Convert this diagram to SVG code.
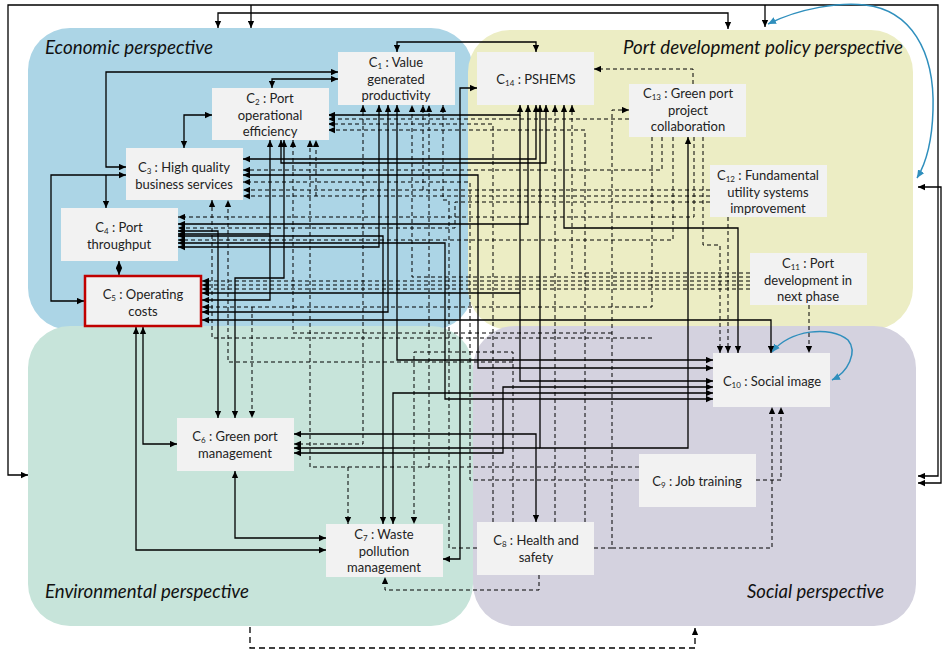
<svg xmlns="http://www.w3.org/2000/svg" width="942" height="651" viewBox="0 0 942 651">
<defs>
<marker id="ah" viewBox="0 0 10 10" refX="10" refY="5" markerWidth="7" markerHeight="7" markerUnits="userSpaceOnUse" orient="auto-start-reverse"><path d="M0,0.5 L10,5 L0,9.5 z" fill="#000"/></marker>
<marker id="bh" viewBox="0 0 10 10" refX="10" refY="5" markerWidth="8" markerHeight="8" markerUnits="userSpaceOnUse" orient="auto-start-reverse"><path d="M0,0.5 L10,5 L0,9.5 z" fill="#2f8fbd"/></marker>
<style>
.s{fill:none;stroke:#000;stroke-width:1.3}
.d{fill:none;stroke:#000;stroke-width:1;stroke-dasharray:4 3}
.d2{fill:none;stroke:#000;stroke-width:1.3;stroke-dasharray:6 4}
.blue{fill:none;stroke:#2f8fbd;stroke-width:1.5;marker-start:url(#bh);marker-end:url(#bh)}
.e{marker-end:url(#ah)}
.b{marker-start:url(#ah);marker-end:url(#ah)}
.box{fill:#f2f2f2}
.t{font-family:Lato,"Open Sans","Liberation Sans",sans-serif;font-size:13px;fill:#222;text-anchor:middle}
.sub{font-size:8px}
.reg{font-family:Lato,"Open Sans","Liberation Sans",sans-serif;font-style:italic;font-size:19px;fill:#111}
</style>
</defs>
<g id="regions">
<rect x="28" y="28" width="445" height="302" rx="42" fill="#acd5e6"/>
<rect x="468" y="30" width="445" height="300" rx="42" fill="#ecedc4"/>
<rect x="28" y="326" width="445" height="300" rx="42" fill="#c7e4da"/>
<rect x="473" y="326" width="443" height="300" rx="42" fill="#d4d2df"/>
<text class="reg" x="45" y="54" textLength="168" lengthAdjust="spacingAndGlyphs">Economic perspective</text>
<text class="reg" x="623" y="54" textLength="280" lengthAdjust="spacingAndGlyphs">Port development policy perspective</text>
<text class="reg" x="45" y="598" textLength="204" lengthAdjust="spacingAndGlyphs">Environmental perspective</text>
<text class="reg" x="747" y="598" textLength="137" lengthAdjust="spacingAndGlyphs">Social perspective</text>
</g>
<g id="connectors">
<path class="s b" d="M28,475 H8 V5 H938 V476 H918"/>
<path class="s e" d="M251,5 V28"/>
<path class="s e" d="M765,5 V27"/>
<path class="s b" d="M218,28 V13 H728 V29"/>
<path class="s b" d="M918,187 H941 V483 H918"/>
<path class="d2 e" d="M250,627 V648 H695 V628"/>
<path class="blue" d="M768,24 C800,8 840,2 865,5 C910,10 935,50 933,110 C932,145 925,165 917,178"/>
<path class="blue" d="M772,352 C790,330 830,325 848,340 C858,352 848,372 832,380"/>

<path class="s b" d="M397,52 V42 H536 V52"/>
<path class="s b" d="M338,72 H106 V167 H126"/>
<path class="s b" d="M338,79 H272 V88"/>
<path class="s b" d="M212,115 H184 V148"/>
<path class="s b" d="M126,175 H51 V301 H84"/>
<path class="s e" d="M106,175 V208"/>
<path class="s b" d="M119,261 V275"/>
<path class="s b" d="M136,327 V550 H326"/>
<path class="s b" d="M143,327 V444 H177"/>
<path class="s b" d="M235,471 V538 H326"/>
<path class="s b" d="M328,115 H520 V105"/>
<path class="s e" d="M520,115 V381 H713"/>
<path class="s e" d="M520,293 H202"/>
<path class="s b" d="M243,159 H536 V105"/>
<path class="s b" d="M281,140 V163 H546 V105"/>
<path class="s b" d="M178,224 H528 V105"/>
<path class="s b" d="M540,105 V448 H688 V137"/>
<path class="s b" d="M564,105 V228 H738 V353"/>
<path class="s b" d="M477,88 H460 V559 H443"/>
<path class="s b" d="M243,175 H478 V368 H713"/>
<path class="s b" d="M379,105 V247 H178"/>
<path class="s b" d="M388,105 V312 H202"/>
<path class="s b" d="M397,105 V360 H713"/>
<path class="s b" d="M178,236 H383 V524"/>
<path class="s b" d="M393,524 V393 H713"/>
<path class="s b" d="M270,140 V300 H202"/>
<path class="s e" d="M270,234 H178"/>
<path class="s b" d="M284,140 V278 H235 V418"/>
<path class="s b" d="M178,231 H218 V418"/>
<path class="s b" d="M294,434 H536 V522"/>
<path class="s e" d="M540,448 H294"/>
<path class="s b" d="M294,453 H503 V387 H713"/>
<path class="s b" d="M178,243 H445 V399 H713"/>
<path class="s b" d="M202,320 H771 V353"/>

<path class="d e" d="M693,84 V69 H594"/>
<path class="d e" d="M594,548 H612 V110 H629"/>
<path class="d e" d="M612,548 H772 V407"/>
<path class="d e" d="M539,575 V590 H385 V577"/>
<path class="d e" d="M756,480 H781 V407"/>
<path class="d e" d="M809,305 V353"/>
<path class="d e" d="M703,137 V245 H720 V353"/>
<path class="d e" d="M728,217 V353"/>
<path class="d e" d="M750,273 H572 V105"/>
<path class="d e" d="M629,119 H328"/>
<path class="d e" d="M493,522 V124 H328"/>
<path class="d e" d="M555,522 V105"/>
<path class="d e" d="M513,522 V352 H414 V524"/>
<path class="d e" d="M477,548 H449 V200 H443 V105"/>
<path class="d e" d="M710,190 H243"/>
<path class="d e" d="M423,190 V105"/>
<path class="d e" d="M710,196 H243"/>
<path class="d e" d="M316,196 V140"/>
<path class="d e" d="M710,202 H455 V228 H178"/>
<path class="d e" d="M750,281 H202"/>
<path class="d e" d="M750,285 H202"/>
<path class="d e" d="M750,289 H202"/>
<path class="d e" d="M750,277 H412 V105"/>
<path class="d e" d="M662,137 V170 H243"/>
<path class="d e" d="M673,137 V240 H178"/>
<path class="d e" d="M694,137 V217 H178"/>
<path class="d e" d="M652,137 V307 H202"/>
<path class="d e" d="M252,307 V418"/>
<path class="d b" d="M363,105 V444 H294"/>
<path class="d e" d="M639,467 H310 V140"/>
<path class="d e" d="M348,467 V524"/>
<path class="d e" d="M429,467 V105"/>
<path class="d e" d="M639,480 H470 V182 H243"/>
<path class="d e" d="M652,338 H212 V200"/>
<path class="d e" d="M513,362 H228 V200"/>
<path class="d e" d="M612,333 H293 V140"/>
<path class="d e" d="M585,522 V130 H328"/>
</g>
<g id="C1"><rect class="box" x="338" y="52" width="117" height="53"/><text class="t" x="396" y="67">C<tspan class="sub" dy="2">1</tspan><tspan dy="-2"> : Value</tspan></text><text class="t" x="396" y="84">generated</text><text class="t" x="396" y="100">productivity</text></g>
<g id="C2"><rect class="box" x="212" y="88" width="117" height="52"/><text class="t" x="270" y="103">C<tspan class="sub" dy="2">2</tspan><tspan dy="-2"> : Port</tspan></text><text class="t" x="270" y="120">operational</text><text class="t" x="270" y="136">efficiency</text></g>
<g id="C3"><rect class="box" x="126" y="148" width="117" height="52"/><text class="t" x="184" y="172">C<tspan class="sub" dy="2">3</tspan><tspan dy="-2"> : High quality</tspan></text><text class="t" x="184" y="189">business services</text></g>
<g id="C4"><rect class="box" x="61" y="208" width="117" height="53"/><text class="t" x="119" y="232">C<tspan class="sub" dy="2">4</tspan><tspan dy="-2"> : Port</tspan></text><text class="t" x="119" y="249">throughput</text></g>
<g id="C5"><rect class="box" x="85" y="276" width="116" height="50" stroke="#c00000" stroke-width="2.5"/><text class="t" x="143" y="299">C<tspan class="sub" dy="2">5</tspan><tspan dy="-2"> : Operating</tspan></text><text class="t" x="143" y="316">costs</text></g>
<g id="C6"><rect class="box" x="177" y="418" width="117" height="53"/><text class="t" x="235" y="441">C<tspan class="sub" dy="2">6</tspan><tspan dy="-2"> : Green port</tspan></text><text class="t" x="235" y="458">management</text></g>
<g id="C7"><rect class="box" x="326" y="524" width="117" height="53"/><text class="t" x="384" y="539">C<tspan class="sub" dy="2">7</tspan><tspan dy="-2"> : Waste</tspan></text><text class="t" x="384" y="556">pollution</text><text class="t" x="384" y="572">management</text></g>
<g id="C8"><rect class="box" x="477" y="522" width="117" height="53"/><text class="t" x="536" y="545">C<tspan class="sub" dy="2">8</tspan><tspan dy="-2"> : Health and</tspan></text><text class="t" x="536" y="562">safety</text></g>
<g id="C9"><rect class="box" x="639" y="454" width="117" height="53"/><text class="t" x="697" y="486">C<tspan class="sub" dy="2">9</tspan><tspan dy="-2"> : Job training</tspan></text></g>
<g id="C10"><rect class="box" x="713" y="353" width="117" height="54"/><text class="t" x="772" y="386">C<tspan class="sub" dy="2">10</tspan><tspan dy="-2"> : Social image</tspan></text></g>
<g id="C11"><rect class="box" x="750" y="253" width="117" height="52"/><text class="t" x="808" y="268">C<tspan class="sub" dy="2">11</tspan><tspan dy="-2"> : Port</tspan></text><text class="t" x="808" y="285">development in</text><text class="t" x="808" y="301">next phase</text></g>
<g id="C12"><rect class="box" x="710" y="165" width="117" height="52"/><text class="t" x="768" y="180">C<tspan class="sub" dy="2">12</tspan><tspan dy="-2"> : Fundamental</tspan></text><text class="t" x="768" y="197">utility systems</text><text class="t" x="768" y="213">improvement</text></g>
<g id="C13"><rect class="box" x="629" y="84" width="117" height="53"/><text class="t" x="688" y="98">C<tspan class="sub" dy="2">13</tspan><tspan dy="-2"> : Green port</tspan></text><text class="t" x="688" y="115">project</text><text class="t" x="688" y="131">collaboration</text></g>
<g id="C14"><rect class="box" x="477" y="52" width="117" height="53"/><text class="t" x="536" y="84">C<tspan class="sub" dy="2">14</tspan><tspan dy="-2"> : PSHEMS</tspan></text></g>
</svg>
